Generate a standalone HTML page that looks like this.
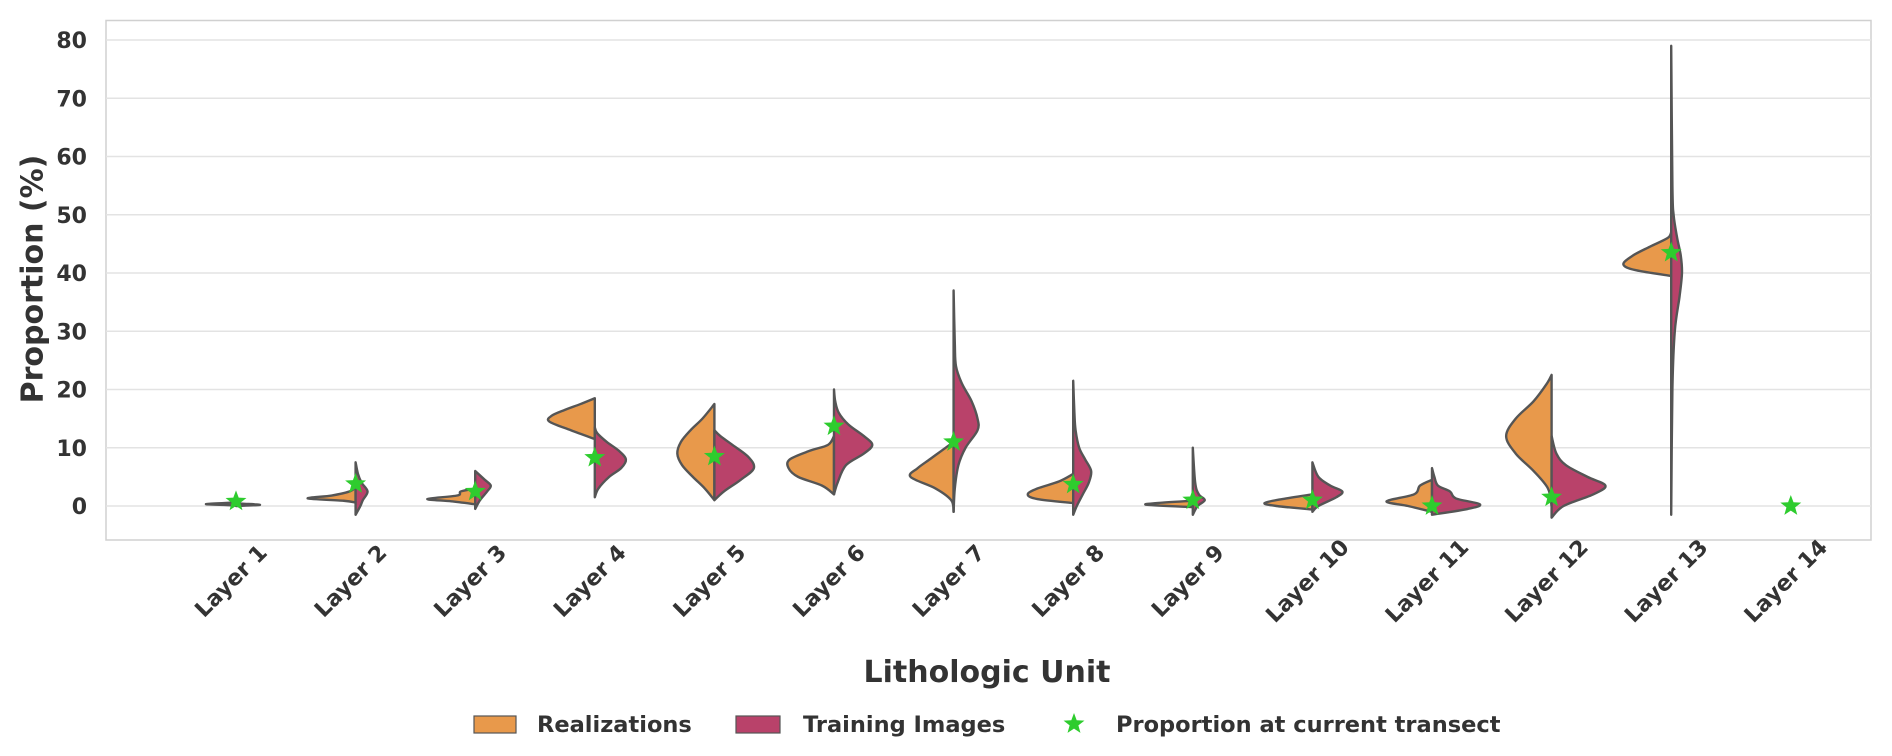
<!DOCTYPE html>
<html><head><meta charset="utf-8">
<style>
html,body{margin:0;padding:0;background:#fff;}
svg{display:block;font-family:"DejaVu Sans","Liberation Sans",sans-serif;}
</style></head>
<body>
<svg id="chart" width="1892" height="756" viewBox="0 0 1892 756">
<rect x="106" y="20.5" width="1765" height="519.5" fill="#fff" stroke="#d0d0d0" stroke-width="1.5"/>
<g id="grid"></g>
<g id="violins"></g>
<g id="stars"></g>
<g id="yticks"></g>
<g id="xticks"></g>
<text x="34" y="279" transform="rotate(-90 34 279)" text-anchor="middle" dominant-baseline="middle" font-size="30" font-weight="bold" fill="#333">Proportion (%)</text>
<text x="987" y="682" text-anchor="middle" font-size="30" font-weight="bold" fill="#333">Lithologic Unit</text>
<g>
<g>
<rect x="474" y="716" width="42" height="17" fill="#E8994B" stroke="#555" stroke-width="1.2"/>
<text x="537" y="732" font-size="22.5" font-weight="bold" fill="#333">Realizations</text>
</g>
<g>
<rect x="736" y="716" width="44" height="17" fill="#B9426A" stroke="#555" stroke-width="1.2"/>
<text x="803" y="732" font-size="22.5" font-weight="bold" fill="#333">Training Images</text>
</g>
<g>
<path id="legstar" fill="#2ECC2E"/>
<text x="1116" y="732" font-size="22.5" font-weight="bold" fill="#333">Proportion at current transect</text>
</g>
</g>
</svg>
<script>
const categories=["Layer 1","Layer 2","Layer 3","Layer 4","Layer 5","Layer 6","Layer 7","Layer 8","Layer 9","Layer 10","Layer 11","Layer 12","Layer 13","Layer 14"];
const yTicks=[0,10,20,30,40,50,60,70,80];
const transectValues=[0.8,3.8,2.5,8.3,8.5,13.7,11,3.7,1,1,0,1.5,43.5,0];
// density profiles: [value, relative density]
const realizationProfiles=[
[[0.1,0],[0.3,0.25],[0.5,0.1],[0.6,0]],
[[0.6,0],[0.9,0.1],[1.3,0.4],[1.8,0.2],[2.5,0.05],[3.2,0]],
[[0.3,0],[0.8,0.2],[1.2,0.4],[1.8,0.15],[2.5,0.12],[3,0]],
[[11.5,0],[13,0.2],[14.5,0.38],[15.5,0.36],[16.5,0.25],[17.5,0.12],[18.5,0]],
[[1,0],[3,0.08],[5,0.18],[7,0.27],[9,0.31],[11,0.28],[13,0.2],[15,0.1],[17.5,0]],
[[2,0],[3.5,0.1],[5,0.3],[6.5,0.38],[8,0.37],[9.5,0.2],[10.5,0.05],[12,0]],
[[-1,0],[1,0.02],[3,0.15],[5,0.36],[6.5,0.3],[8,0.2],[9.5,0.1],[11,0]],
[[0.5,0],[1.2,0.3],[2,0.38],[3,0.3],[4.2,0.12],[5.5,0]],
[[-0.2,0],[0.2,0.38],[0.5,0.3],[0.9,0]],
[[-0.6,0],[0,0.3],[0.5,0.4],[1.2,0.25],[2,0]],
[[-1,0],[0,0.2],[0.8,0.38],[2,0.15],[3.5,0.1],[4.5,0]],
[[0,0],[3,0.03],[6,0.15],[9,0.3],[12,0.38],[15,0.3],[18,0.15],[21,0.04],[22.5,0]],
[[39.5,0],[40.5,0.3],[41.5,0.4],[43,0.32],[44.5,0.18],[46,0.03],[47,0]],
[]
];
const trainingProfiles=[
[[0,0],[0.2,0.2],[0.4,0.05],[0.5,0]],
[[-1.5,0],[0,0.04],[1,0.06],[2.5,0.1],[4,0.05],[5.5,0.02],[7.5,0]],
[[-0.5,0],[1,0.04],[2.5,0.1],[3.5,0.13],[4.5,0.08],[6,0]],
[[1.5,0],[3,0.03],[5,0.12],[6.5,0.22],[8,0.26],[9.5,0.2],[11,0.1],[12.5,0.02],[13.5,0]],
[[1,0],[2.5,0.08],[4.5,0.22],[6.5,0.33],[8.5,0.28],[10.5,0.15],[12,0.05],[13,0]],
[[2,0],[4,0.03],[7,0.1],[9,0.25],[10.5,0.32],[12,0.25],[14,0.12],[16,0.04],[18,0.01],[20,0]],
[[-1,0],[3,0.01],[7,0.04],[10,0.1],[13,0.2],[15,0.2],[18,0.15],[21,0.07],[24,0.02],[28,0.01],[37,0]],
[[-1.5,0],[0,0.03],[2,0.08],[4,0.13],[6,0.15],[8,0.1],[10,0.05],[13,0.02],[16,0.01],[21.5,0]],
[[-1.5,0],[0,0.04],[1,0.1],[2,0.05],[4,0.02],[10,0]],
[[-1,0],[0,0.05],[1.5,0.2],[2.5,0.25],[3.5,0.15],[5,0.05],[7.5,0]],
[[-1.5,0],[-0.5,0.3],[0.3,0.4],[1.3,0.2],[2.5,0.15],[3.5,0.05],[5,0.02],[6.5,0]],
[[-2,0],[0,0.1],[2,0.35],[3.5,0.45],[5,0.3],[7,0.12],[9,0.04],[12,0]],
[[-1.5,0],[20,0.01],[30,0.03],[36,0.07],[40,0.09],[43,0.08],[46,0.05],[50,0.02],[55,0.01],[79,0]],
[]
];
const NS="http://www.w3.org/2000/svg";
const X0=236,STEP=119.6,Y0=506,PPU=5.825;
function xPos(i){return X0+i*STEP;}
function yPos(v){return Y0-v*PPU;}
function el(tag,attrs,parent){const e=document.createElementNS(NS,tag);for(const k in attrs)e.setAttribute(k,attrs[k]);parent.appendChild(e);return e;}
const grid=document.getElementById('grid'),yt=document.getElementById('yticks');
yTicks.forEach(t=>{
 const l=el('line',{x1:106,x2:1871,y1:yPos(t),y2:yPos(t),stroke:'#e3e3e3','stroke-width':1.6},grid);
 
 
 const tx=el('text',{x:87,y:yPos(t)+8,'text-anchor':'end','font-size':22,'font-weight':'bold',fill:'#333'},yt);
 tx.textContent=t;
 
 
});
const xt=document.getElementById('xticks');
categories.forEach((c,i)=>{
 const cx=xPos(i)-4,cy=582;
 const tx=el('text',{x:cx,y:cy,'text-anchor':'middle','dominant-baseline':'middle',transform:`rotate(-45 ${cx} ${cy})`,'font-size':22,'font-weight':'bold',fill:'#333'},xt);
 tx.textContent=c;
 
 
});
function smoothPath(pts){
 let d=`M${pts[0][0]},${pts[0][1]}`;
 for(let i=0;i<pts.length-1;i++){
  const p0=pts[Math.max(0,i-1)],p1=pts[i],p2=pts[i+1],p3=pts[Math.min(pts.length-1,i+2)];
  const c1=[p1[0]+(p2[0]-p0[0])/6,p1[1]+(p2[1]-p0[1])/6];
  const c2=[p2[0]-(p3[0]-p1[0])/6,p2[1]-(p3[1]-p1[1])/6];
  d+=`C${c1[0]},${c1[1]} ${c2[0]},${c2[1]} ${p2[0]},${p2[1]}`;
 }
 return d;
}
const vg=document.getElementById('violins');
function half(i,prof,side,color,name){
 if(!prof.length)return;
 const cx=xPos(i);
 const pts=prof.map(p=>[cx+side*p[1]*STEP,yPos(p[0])]);
 const d=smoothPath(pts)+'Z';
 const p=el('path',{d:d,fill:color,stroke:'#555','stroke-width':2.4,'stroke-linejoin':'round'},vg);
 
 
}
categories.forEach((c,i)=>{
 half(i,realizationProfiles[i],-1,'#E8994B','violin-realizations-layer');
 half(i,trainingProfiles[i],1,'#B9426A','violin-training-layer');
});
function starPath(cx,cy,R,r){
 let d='';
 for(let k=0;k<10;k++){const a=-Math.PI/2+k*Math.PI/5,rr=k%2?r:R;d+=(k?'L':'M')+(cx+rr*Math.cos(a)).toFixed(2)+','+(cy+rr*Math.sin(a)).toFixed(2);}
 return d+'Z';
}
const sg=document.getElementById('stars');
transectValues.forEach((v,i)=>{
 const s=el('path',{d:starPath(xPos(i),yPos(v),11,4.6),fill:'#2ECC2E'},sg);
 
 
});
document.getElementById('legstar').setAttribute('d',starPath(1074,724,11,4.6));
</script>
</body></html>
